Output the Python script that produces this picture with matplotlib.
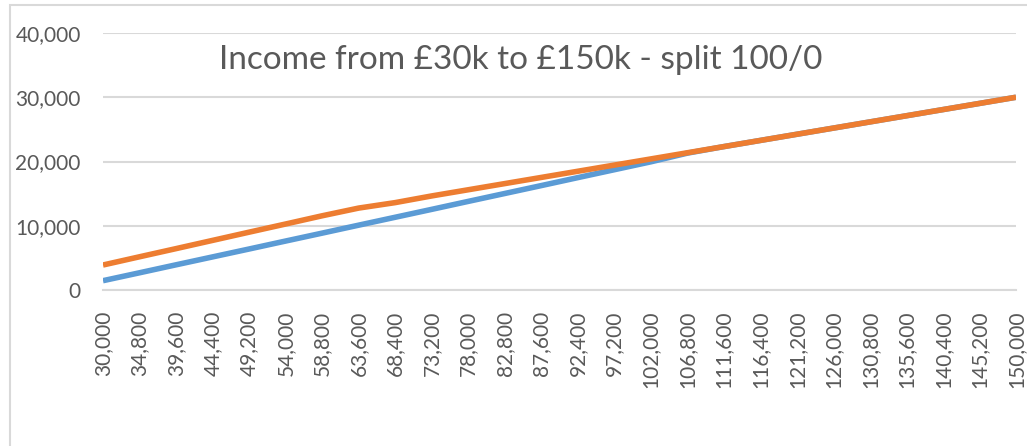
import numpy as np
import matplotlib
matplotlib.use("Agg")
import matplotlib.pyplot as plt
from matplotlib.patches import Rectangle
from matplotlib.ticker import FuncFormatter

plt.rcParams["font.family"] = "Lato"

# income categories (x axis) and the two series
income = [30000, 34800, 39600, 44400, 49200, 54000, 58800, 63600, 68400,
          73200, 78000, 82800, 87600, 92400, 97200, 102000, 106800, 111600,
          116400, 121200, 126000, 130800, 135600, 140400, 145200, 150000]

series_blue = [1450, 2680, 3920, 5150, 6380, 7620, 8850, 10090, 11320,
               12550, 13790, 15020, 16250, 17490, 18720, 19950, 21300, 22320,
               23280, 24240, 25200, 26160, 27120, 28080, 29040, 30000]

series_orange = [3890, 5170, 6440, 7720, 9000, 10270, 11550, 12750, 13600,
                 14640, 15600, 16560, 17520, 18480, 19440, 20400, 21360, 22320,
                 23280, 24240, 25200, 26160, 27120, 28080, 29040, 30000]

title = 'Income from £30k to £150k - split 100/0'

text_col = '#595959'
grid_col = '#D9D9D9'

fig = plt.figure(figsize=(10.27, 4.46), dpi=100)
ax = fig.add_axes([103 / 1027, 1 - 290 / 446, 913 / 1027, 257 / 446])

xpos = np.arange(len(income))
ax.plot(xpos, series_blue, color='#5B9BD5', linewidth=4, solid_capstyle='butt', zorder=3)
ax.plot(xpos, series_orange, color='#ED7D31', linewidth=4, solid_capstyle='butt', zorder=4)

ax.set_xlim(0, len(income) - 1)
ax.set_ylim(0, 40000)
ax.set_yticks([0, 10000, 20000, 30000, 40000])
ax.yaxis.set_major_formatter(FuncFormatter(lambda v, p: f'{int(v):,}'))
ax.set_xticks(xpos)
ax.set_xticklabels([f'{v:,}' for v in income], rotation=90)

ax.grid(axis='y', color=grid_col, linewidth=1.5)
ax.set_axisbelow(True)
for s in ['top', 'right', 'left']:
    ax.spines[s].set_visible(False)
ax.spines['bottom'].set_color(grid_col)
ax.spines['bottom'].set_linewidth(1.5)
ax.tick_params(axis='both', length=0, colors=text_col, labelsize=15)
ax.tick_params(axis='y', pad=16)
ax.tick_params(axis='x', pad=15)

ax.text(0.457, 0.955, title, transform=ax.transAxes, ha='center', va='top',
        fontsize=24, color=text_col)

# outer chart border
fig.patches.append(Rectangle((10 / 1027, -0.1), 1.2, 1.1 - 5 / 446, transform=fig.transFigure,
                             fill=False, edgecolor=grid_col, linewidth=1.5))

plt.savefig('out.png', dpi=100)
